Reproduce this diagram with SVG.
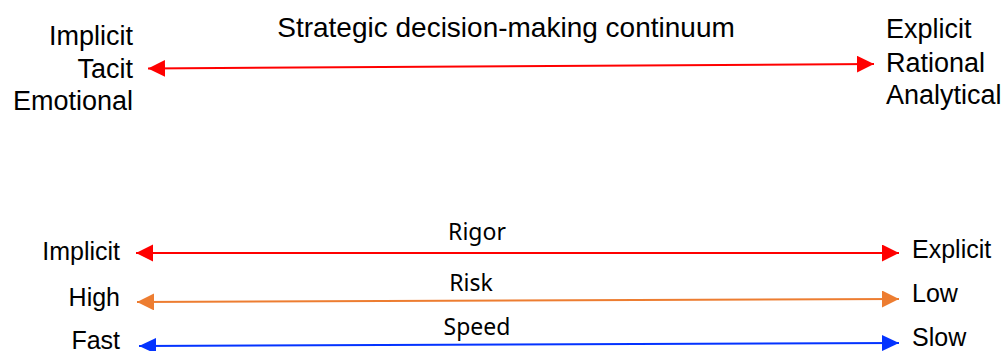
<svg xmlns="http://www.w3.org/2000/svg" width="1006" height="351" viewBox="0 0 1006 351">
<style>
.lbl{font-family:"Liberation Sans",Arial,sans-serif;fill:#000;}
.big{font-size:27px;}
.ttl{font-size:28px;}
.mid{font-size:25px;}
.cal{font-family:"Noto Sans","Open Sans",sans-serif;font-size:23px;fill:#000;}
.ln{fill:none;stroke-width:2;}
</style>
<defs>
<marker id="aR" markerUnits="userSpaceOnUse" markerWidth="18" markerHeight="18" refX="17" refY="8.5" orient="auto-start-reverse"><path d="M0,0 L17,8.5 L0,17 z" fill="#FF0000"/></marker>
<marker id="aO" markerUnits="userSpaceOnUse" markerWidth="18" markerHeight="18" refX="17" refY="8.5" orient="auto-start-reverse"><path d="M0,0 L17,8.5 L0,17 z" fill="#ED7D31"/></marker>
<marker id="aB" markerUnits="userSpaceOnUse" markerWidth="18" markerHeight="18" refX="17" refY="8" orient="auto-start-reverse"><path d="M0,0 L17,8 L0,16 z" fill="#0433FF"/></marker>
</defs>
<g id="title"><text class="lbl ttl" x="506" y="37" text-anchor="middle">Strategic decision-making continuum</text></g>
<g id="left-top" class="lbl big" text-anchor="end">
<text x="133" y="45">Implicit</text>
<text x="133" y="78">Tacit</text>
<text x="133" y="110">Emotional</text>
</g>
<g id="right-top" class="lbl big">
<text x="886" y="38">Explicit</text>
<text x="886" y="72">Rational</text>
<text x="886" y="104">Analytical</text>
</g>
<g id="rigor">
<text class="lbl mid" x="120" y="260" text-anchor="end">Implicit</text>
<text class="cal" x="477" y="240" text-anchor="middle">Rigor</text>
<text class="lbl mid" x="912" y="258">Explicit</text>
</g>
<g id="risk">
<text class="lbl mid" x="120" y="306" text-anchor="end">High</text>
<text class="cal" x="471" y="291" text-anchor="middle">Risk</text>
<text class="lbl mid" x="912" y="302">Low</text>
</g>
<g id="speed">
<text class="lbl mid" x="120" y="349" text-anchor="end">Fast</text>
<text class="cal" x="477" y="335" text-anchor="middle">Speed</text>
<text class="lbl mid" x="912" y="346">Slow</text>
</g>
<g id="connectors">
<line class="ln" x1="148" y1="68.5" x2="874" y2="64" stroke="#FF0000" marker-start="url(#aR)" marker-end="url(#aR)"/>
<line class="ln" x1="136" y1="253" x2="899" y2="253" stroke="#FF0000" marker-start="url(#aR)" marker-end="url(#aR)"/>
<line class="ln" x1="137" y1="302" x2="899" y2="299" stroke="#ED7D31" marker-start="url(#aO)" marker-end="url(#aO)"/>
<line class="ln" x1="139" y1="346" x2="899" y2="343" stroke="#0433FF" marker-start="url(#aB)" marker-end="url(#aB)"/>
</g>
</svg>
